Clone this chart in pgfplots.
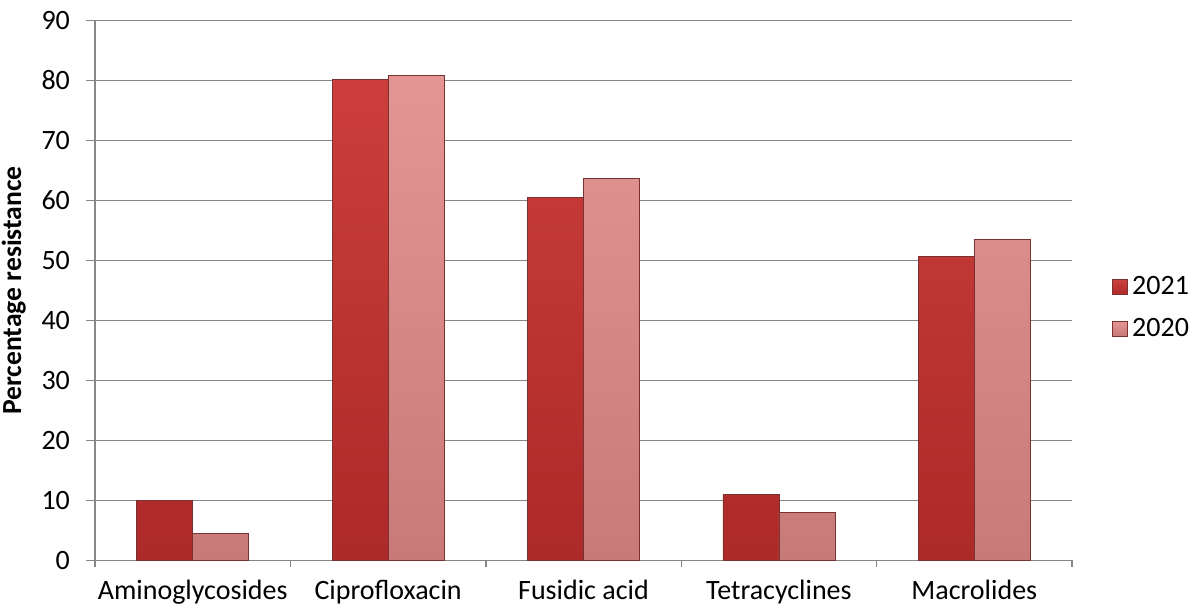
\documentclass[border=0pt]{standalone}
\usepackage{fontspec}
\setmainfont{Carlito}
\usepackage{pgfplots}
\pgfplotsset{compat=1.18}

\definecolor{gridgray}{RGB}{134,134,134}
\definecolor{redA}{RGB}{204,62,59}
\definecolor{redB}{RGB}{172,42,40}
\definecolor{pinkA}{RGB}{228,150,149}
\definecolor{pinkB}{RGB}{200,122,121}
\definecolor{edge}{RGB}{120,50,50}

\begin{document}
\begin{tikzpicture}
\begin{axis}[
  scale only axis,
  width=488.5pt, height=270pt,
  ymin=0, ymax=90,
  ytick={0,10,...,90},
  xmin=-0.5, xmax=4.5,
  xtick={0,1,2,3,4},
  xticklabels={Aminoglycosides,Ciprofloxacin,Fusidic acid,Tetracyclines,Macrolides},
  minor xtick={-0.5,0.5,1.5,2.5,3.5,4.5},
  ybar=0pt, bar width=28pt,
  axis x line*=bottom, axis y line*=left,
  axis line style={gridgray, line width=0.7pt, -},
  ymajorgrids, grid style={gridgray, line width=0.7pt},
  tick align=outside,
  major tick length=4.5pt, minor tick length=3.5pt,
  major x tick style={draw=none},
  minor x tick style={gridgray, line width=0.7pt},
  y tick style={gridgray, line width=0.7pt},
  tick label style={font=\fontsize{14}{16}\selectfont},
  yticklabel style={xshift=-4.5pt},
  xticklabel style={yshift=-2pt},
  /pgf/number format/assume math mode=true,
  ylabel={Percentage resistance},
  ylabel style={font=\bfseries\fontsize{13.8}{15}\selectfont, yshift=1pt},
  legend style={draw=none, fill=none, at={(1,0.4676)}, anchor=west, xshift=17pt,
    row sep=6pt, font=\fontsize{14}{16}\selectfont},
  legend cell align=left,
  legend image code/.code={\draw[#1] (0pt,-3.75pt) rectangle (7.5pt,3.75pt);},
]
\addplot[top color=redA, bottom color=redB, draw=edge, line width=0.4pt]
  coordinates {(0,10.0) (1,80.2) (2,60.5) (3,11.0) (4,50.6)};
\addplot[top color=pinkA, bottom color=pinkB, draw=edge, line width=0.4pt]
  coordinates {(0,4.5) (1,80.9) (2,63.7) (3,8.0) (4,53.5)};
\legend{2021,2020}
\coordinate (sw) at (rel axis cs:0,0);
\coordinate (ne) at (rel axis cs:1,1);
\end{axis}
\pgfresetboundingbox
\path[use as bounding box] ([xshift=-47.5pt,yshift=-24.25pt]sw) rectangle ([xshift=62pt,yshift=10.25pt]ne);
\end{tikzpicture}
\end{document}
